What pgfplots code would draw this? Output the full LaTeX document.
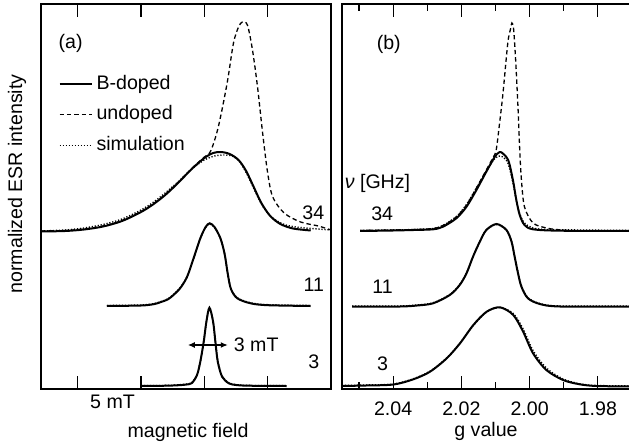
\documentclass[border=0pt]{standalone}
\usepackage{fontspec}
\setmainfont{Liberation Sans}
\usepackage{pgfplots}
\pgfplotsset{compat=1.18}
\usetikzlibrary{arrows.meta}

\pgfplotsset{
  esr/.style={
    scale only axis, width=145pt, height=192.5pt,
    ymin=0, ymax=385, ytick=\empty,
    tick align=inside, xtick pos=both,
    major tick length=6.5pt, minor tick length=3.5pt,
    axis line style={line width=0.6pt},
    every tick/.style={line width=0.6pt, black},
    anchor=south west,
  },
  bdoped/.style={black, line width=1pt, smooth},
  undoped/.style={black, line width=0.65pt, dash pattern=on 2.2pt off 1.5pt, smooth},
  simul/.style={black, line width=0.7pt, dash pattern=on 0.6pt off 0.9pt, smooth},
}

\begin{document}
\fontsize{9.8}{12}\selectfont
\begin{tikzpicture}
\useasboundingbox (0pt,0pt) rectangle (314.5pt,223.5pt);

% (a) magnetic field, 0 = centre of the lines, mT
\begin{axis}[esr, at={(20.5pt,29pt)},
    xmin=-12.9, xmax=10,
    xtick={-10,-5,0,5,10}, xticklabels={},
    legend style={draw=none, fill=none, at={(0.059,0.827)}, anchor=north west,
      inner sep=0pt, row sep=2.4pt, column sep=0pt, cells={anchor=west},
      nodes={inner sep=2pt, text height=7pt, text depth=2pt}},
    legend image code/.code={\draw[#1] (0pt,0pt) -- (16pt,0pt);},
  ]
  % 34 GHz
  \addplot[bdoped] coordinates {(-12.9,157.5) (-11,158) (-9.5,159.5) (-8,162.5) (-6.5,168) (-5,177) (-4,185) (-3,195) (-2,207) (-1,220) (0,231) (0.7,236) (1.3,237) (2,235) (2.7,229) (3.3,218) (3.9,202) (4.5,186) (5.2,173) (6,165) (7,160.5) (8.4,158.5)};
  \addlegendentry{B-doped}
  \addplot[undoped] coordinates {(-12.9,158) (-11,158.5) (-9.5,160) (-8,163) (-6.5,168.5) (-5,177.5) (-4,185.5) (-3,195.5) (-2,207.5) (-1,220.5) (0,232) (0.5,238) (1.1,262) (1.8,306) (2.3,346) (2.7,362) (3.0,367) (3.4,364) (3.8,339) (4.2,302) (4.6,256) (5.0,216) (5.4,192) (6.3,176) (7.6,167) (9.0,163) (10,159)};
  \addlegendentry{undoped}
  \addplot[simul] coordinates {(-12.9,158) (-11,159) (-9.5,161) (-8,164.5) (-6.5,170) (-5,179) (-4,187) (-3,197) (-2,208) (-1,220) (0,229) (0.8,233) (1.5,234) (2.2,233) (2.8,227) (3.4,214) (4,198) (4.6,183) (5.3,172) (6.2,165) (7.2,162) (8.5,160.5) (10,159)};
  \addlegendentry{simulation}
  % 11 GHz
  \addplot[simul, forget plot] coordinates {(-7.7,83.5) (-5,84) (-4,85.3) (-3.49,87.2) (-2.9,90) (-2.44,94.5) (-1.9,101.5) (-1.37,112.5) (-0.85,131) (-0.32,150.5) (0.1,161.5) (0.42,165) (0.8,161.5) (1.27,150.5) (1.6,135.5) (1.85,115.5) (2.1,100.5) (2.6,91.2) (3.65,86.2) (5,84.3) (8.4,83.5)};
  \addplot[bdoped, forget plot] coordinates {(-7.7,83) (-5,83.5) (-4,84.8) (-3.49,86.7) (-2.9,89.5) (-2.44,94) (-1.9,101) (-1.37,112) (-0.85,130.7) (-0.32,150.7) (0.1,162) (0.42,165.7) (0.8,162) (1.27,150.7) (1.6,135) (1.85,115) (2.1,100) (2.6,90.7) (3.65,85.7) (5,83.8) (8.4,83)};
  % 3 GHz
  \addplot[simul, forget plot] coordinates {(-5,3.3) (-3,3.6) (-2,4.2) (-1.4,5) (-0.98,6.5) (-0.58,14.5) (-0.32,27.5) (-0.05,47.5) (0.16,67) (0.4,81) (0.69,67.5) (0.87,47.8) (1.06,28) (1.4,13) (1.93,6.2) (2.5,4.4) (3.5,3.6) (6.5,3.3)};
  \addplot[bdoped, forget plot] coordinates {(-5,3) (-3,3.3) (-2,3.8) (-1.4,4.5) (-0.98,6) (-0.58,14) (-0.32,27.3) (-0.05,47.3) (0.16,67.3) (0.4,81.3) (0.69,67.3) (0.87,47.3) (1.06,27.3) (1.4,12.3) (1.93,5.7) (2.5,4) (3.5,3.3) (6.5,3)};

  \node at (axis cs:-10.56,345.5) {(a)};
  \node at (axis cs:8.6,176) {34};
  \node at (axis cs:8.65,104) {11};
  \node at (axis cs:8.65,27) {3};
  \draw[line width=0.6pt, {Latex[length=3.5pt,width=3pt]}-{Latex[length=3.5pt,width=3pt]}] (axis cs:-1.3,44) -- (axis cs:1.85,44);
  \node[anchor=west, inner sep=0pt] at (axis cs:2.3,44) {3 mT};
\end{axis}

% (b) g value
\begin{axis}[esr, at={(171pt,29pt)},
    xmin=1.970, xmax=2.055, x dir=reverse,
    xtick={1.98,2.00,2.02,2.04}, minor xtick={1.99,2.01,2.03,2.05},
    xticklabel style={anchor=base, yshift=-13pt,
      /pgf/number format/fixed, /pgf/number format/fixed zerofill,
      /pgf/number format/precision=2, /pgf/number format/assume math mode=true},
  ]
  % 34 GHz
  \addplot[undoped] coordinates {(2.0497,158.5) (2.040,159) (2.034,159.5) (2.0283,160.5) (2.0254,163.5) (2.0215,172) (2.0185,184) (2.0156,201) (2.0127,219) (2.0108,231) (2.0098,239) (2.0088,266) (2.0078,296) (2.0064,346) (2.0056,360) (2.0052,366) (2.0047,360) (2.0041,329) (2.0034,281) (2.0029,239) (2.0024,209) (2.0015,182) (1.999,166) (1.9951,161) (1.9921,159.5) (1.988,158.5) (1.980,158)};
  \addplot[simul] coordinates {(2.0497,158.5) (2.040,159) (2.034,159.5) (2.0283,160.5) (2.0254,163.5) (2.0215,172.5) (2.0185,184.5) (2.0156,201) (2.0127,218) (2.0102,230.5) (2.0085,233) (2.0065,227) (2.005,208) (2.004,190) (2.003,176) (2.0015,166) (1.999,161) (1.995,159.5) (1.985,159) (1.970,158.5)};
  \addplot[bdoped] coordinates {(2.0497,158) (2.040,158.5) (2.034,159) (2.0283,159.7) (2.0254,162.3) (2.0215,170.7) (2.0185,182.3) (2.0156,199) (2.0127,217.3) (2.0102,232.3) (2.0092,236) (2.0083,236.7) (2.0063,229) (2.0049,209) (2.0039,189) (2.0029,174) (2.0015,164) (1.999,159.7) (1.9911,158.3) (1.970,158)};
  % 11 GHz
  \addplot[simul] coordinates {(2.052,83) (2.038,83) (2.033,84) (2.0283,86.2) (2.0234,94.5) (2.0205,104.5) (2.0185,116) (2.0166,132.5) (2.0146,147.5) (2.0127,158.8) (2.0097,164.5) (2.0068,159) (2.0053,147.8) (2.0044,133) (2.0034,116.5) (2.0024,103) (2.0005,91.3) (1.997,85.5) (1.9911,83) (1.970,83)};
  \addplot[bdoped] coordinates {(2.052,82.5) (2.038,82.5) (2.033,83.5) (2.0283,85.7) (2.0234,94) (2.0205,104) (2.0185,115.7) (2.0166,132.3) (2.0146,147.3) (2.0127,159) (2.0097,165) (2.0068,159) (2.0053,147.3) (2.0044,132.3) (2.0034,115.7) (2.0024,102.3) (2.0005,90.7) (1.997,85) (1.9911,82.5) (1.970,82.5)};
  % 3 GHz
  \addplot[simul] coordinates {(2.055,3.5) (2.048,4) (2.0399,5) (2.0341,10.2) (2.0292,17.8) (2.0243,31) (2.0204,46) (2.0165,63.5) (2.0126,77) (2.0087,81.5) (2.0048,75.5) (2.0019,60) (1.999,38.5) (1.9951,21) (1.9902,10) (1.9853,5.2) (1.9804,3.5) (1.970,3)};
  \addplot[bdoped] coordinates {(2.055,3) (2.048,3.5) (2.0399,4.5) (2.0341,9.7) (2.0292,17.3) (2.0243,30.7) (2.0204,45.7) (2.0165,64) (2.0126,77.3) (2.0087,81.7) (2.0048,74) (2.0019,57.3) (1.999,35.7) (1.9951,19) (1.9902,9) (1.9853,4.7) (1.9804,3) (1.970,2.5)};

  \node at (axis cs:2.0413,344.5) {(b)};
  \node at (axis cs:2.0446,205.5) {\textit{ν} [GHz]};
  \node at (axis cs:2.0432,175.5) {34};
  \node at (axis cs:2.0431,102.3) {11};
  \node at (axis cs:2.0431,25.5) {3};
\end{axis}

\node[rotate=90] at (8.5pt,131.5pt) {normalized ESR intensity};
\node[anchor=base] at (56.25pt,19.5pt) {5 mT};
\node[anchor=base] at (94pt,5pt) {magnetic field};
\node[anchor=base] at (243pt,5.5pt) {g value};
\end{tikzpicture}
\end{document}
